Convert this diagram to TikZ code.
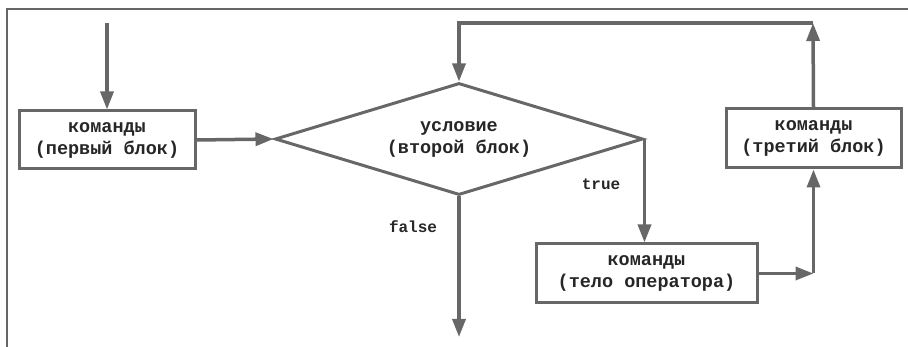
\documentclass[tikz,border=0pt]{standalone}
\usepackage{fontspec}
\setmonofont{Liberation Mono}
\usetikzlibrary{arrows.meta,shapes.geometric}
\definecolor{lc}{HTML}{676767}
\begin{document}
\begin{tikzpicture}[x=1pt,y=-1pt,
  every node/.style={font=\ttfamily\bfseries\fontsize{18.5}{22}\selectfont, text=black!85, align=center},
  boxnode/.style={draw=lc, line width=3pt, rectangle, inner sep=0pt},
  lbl/.style={font=\ttfamily\bfseries\fontsize{16}{18}\selectfont},
  conn/.style={draw=lc, line width=3.5pt},
  arr/.style={conn, -{Triangle[length=18pt,width=13pt]}}]
\useasboundingbox (0,0) rectangle (908,347);
\draw[draw=black!60, line width=1.5pt] (7,347) -- (7,9) -- (908,9);
\node[boxnode, minimum width=176pt, minimum height=58pt] (b1) at (107,140) {команды\\(первый блок)};
\node[diamond, draw=lc, line width=3pt, inner sep=0pt, aspect=3.29, minimum width=368pt, minimum height=112pt] (d) at (459,139) {условие\\(второй блок)};
\node[boxnode, minimum width=221pt, minimum height=59pt] (b3) at (646.5,273.5) {команды\\(тело оператора)};
\node[boxnode, minimum width=175pt, minimum height=59pt] (b4) at (813.5,138.5) {команды\\(третий блок)};
\node[lbl] (t) at (601,184) {true};
\node[lbl] (f) at (413,227) {false};
\coordinate (s) at (107,23);
\coordinate (e) at (459,337);
\coordinate (c1) at (b4.south |- b3.east);
\coordinate (c2) at (813,23);
\coordinate (c3) at (459,23);
\draw[arr] (s) -- (b1.north);
\draw[arr] (b1.east) -- (d.west);
\draw[arr] (d.south) -- (e);
\draw[arr] (d.east) -- (d.east |- b3.north);
\draw[arr] (b3.east) -- (c1);
\draw[arr] (c1) -- (b4.south);
\draw[arr] (b4.north) -- (c2);
\draw[arr] (c2) -- (c3) -- (d.north);
\end{tikzpicture}
\end{document}
